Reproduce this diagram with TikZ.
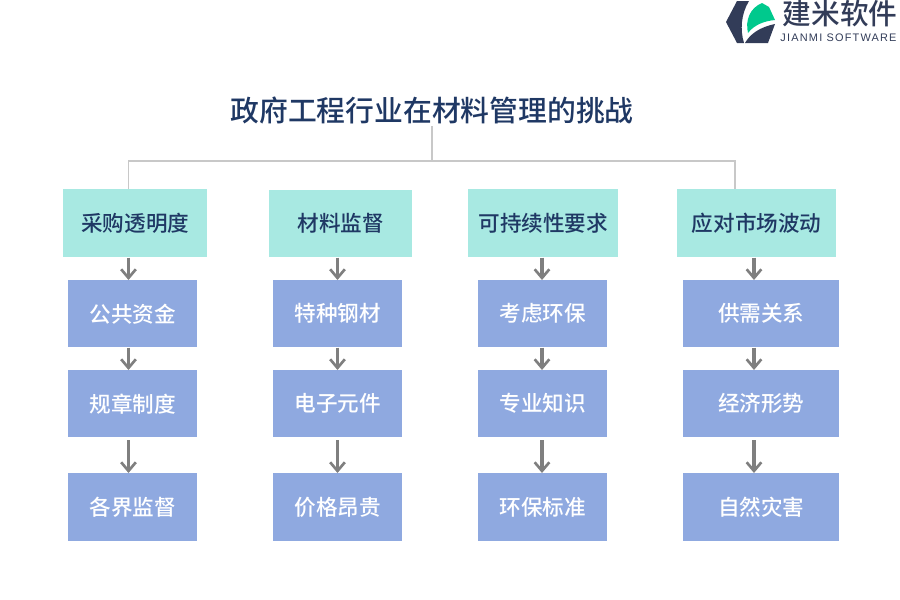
\documentclass[tikz,border=0pt]{standalone}
\usepackage{fontspec}
\setmainfont{Liberation Sans}
\newfontfamily\cjk{Noto Sans CJK SC Medium}
\newfontfamily\cjkb{Noto Sans CJK SC}
\newfontfamily\logolat[LetterSpace=11]{Liberation Sans}
\definecolor{navy}{HTML}{1F3864}
\definecolor{headfill}{HTML}{A8E9E2}
\definecolor{subfill}{HTML}{8FA9E0}
\definecolor{linegray}{HTML}{C8C8C8}
\definecolor{arrowgray}{HTML}{7F7F7F}
\definecolor{logodark}{HTML}{323C58}
\definecolor{logogreen}{HTML}{00C98D}
\usetikzlibrary{arrows.meta}
\tikzset{
  x=0.75pt,y=-0.75pt,
  boxbase/.style={rectangle,inner sep=0pt,anchor=north west,font=\cjk\fontsize{16.2pt}{17pt}\selectfont},
  headbox/.style={boxbase,fill=headfill,text=navy},
  subbox/.style={boxbase,fill=subfill,text=white},
  trunk/.style={draw=linegray,line width=1.1pt},
  flow/.style={draw=arrowgray,line width=2.3pt,-{Straight Barb[length=6.5pt,width=11pt,line width=2pt]}},
}
\newcommand{\bx}[7]{\node[#1,minimum width=#5*0.75pt,minimum height=#6*0.75pt] (#2) at (#3,#4) {#7};}
\begin{document}
\begin{tikzpicture}
\useasboundingbox (0,0) rectangle (900,600);
\node[font=\cjk\fontsize{21.6pt}{24pt}\selectfont,text=navy,inner sep=0pt] (title) at (432,110) {政府工程行业在材料管理的挑战};
\coordinate (tb) at (432,126);
\coordinate (tj) at (432,161);
\coordinate (c1) at (128.5,0);
\coordinate (c2) at (337.5,0);
\coordinate (c3) at (542,0);
\coordinate (c4) at (754,0);
\coordinate (ce) at (735,0);
\bx{headbox}{h1}{63}{189}{144}{68}{采购透明度}
\bx{headbox}{h2}{269}{190}{143}{67}{材料监督}
\bx{headbox}{h3}{468}{189}{150}{68}{可持续性要求}
\bx{headbox}{h4}{677}{189}{159}{68}{应对市场波动}
\bx{subbox}{a1}{68}{280}{129}{67}{公共资金}
\bx{subbox}{a2}{68}{370}{129}{67}{规章制度}
\bx{subbox}{a3}{68}{473}{129}{68}{各界监督}
\bx{subbox}{b1}{273}{280}{129}{67}{特种钢材}
\bx{subbox}{b2}{273}{370}{129}{67}{电子元件}
\bx{subbox}{b3}{273}{473}{129}{68}{价格昂贵}
\bx{subbox}{d1}{478}{280}{129}{67}{考虑环保}
\bx{subbox}{d2}{478}{370}{129}{67}{专业知识}
\bx{subbox}{d3}{478}{473}{129}{68}{环保标准}
\bx{subbox}{e1}{683}{280}{156}{67}{供需关系}
\bx{subbox}{e2}{683}{370}{156}{67}{经济形势}
\bx{subbox}{e3}{683}{473}{156}{68}{自然灾害}
\draw[trunk] (tb) -- (tj);
\draw[trunk] (h1.north -| c1) |- (tj) -| (h4.north -| ce);
\foreach \u/\v/\c in {h1/a1/c1,a1/a2/c1,h2/b1/c2,b1/b2/c2,h3/d1/c3,d1/d2/c3,h4/e1/c4,e1/e2/c4}
  \draw[flow] (\u.south -| \c) -- (\v.north -| \c);
\foreach \u/\v/\c in {a2/a3/c1,b2/b3/c2,d2/d3/c3,e2/e3/c4}
  \draw[flow] ([yshift=-2.2pt]\u.south -| \c) -- (\v.north -| \c);
% logo
\fill[logodark] (737,1) -- (726,22) -- (737,43) -- (744,43) .. controls (740,30) and (741,14) .. (749,1) -- cycle;
\fill[logogreen] (748,33) .. controls (745,20) and (750,8) .. (762,3) -- (769,7) -- (775,20) .. controls (764,21) and (754,25) .. cycle;
\fill[logodark] (745,43) .. controls (750,34) and (760,27) .. (775,24) -- (768,43) -- cycle;
\node[font=\cjk\fontsize{21.5pt}{22pt}\selectfont,text=logodark,inner sep=0pt] (logot) at (840,14) {建米软件};
\node[font=\logolat\fontsize{8.2pt}{9pt}\selectfont,text=logodark,inner sep=0pt] (logos) at (838.5,38) {JIANMI SOFTWARE};
\end{tikzpicture}
\end{document}
